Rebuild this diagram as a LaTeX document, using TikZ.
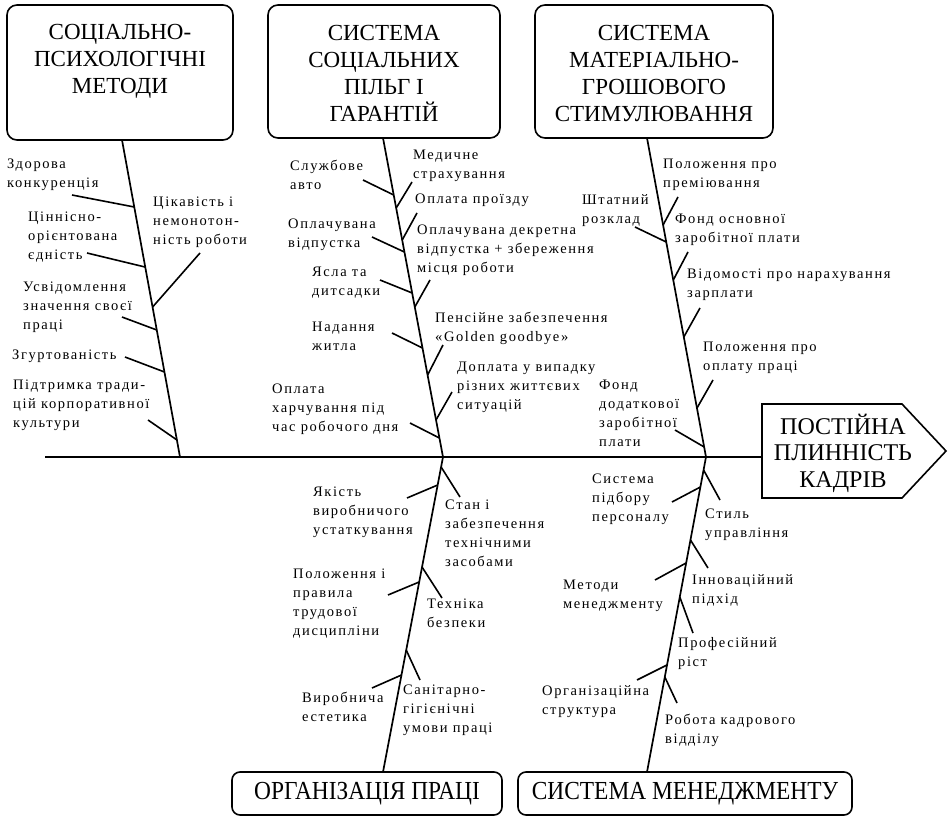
\documentclass[tikz,border=0pt]{standalone}
\usepackage{fontspec}
\setmainfont{Liberation Serif}
\newfontfamily\labfam[LetterSpace=11]{Liberation Serif}
\newfontfamily\condfam[FakeStretch=0.9]{Liberation Serif}
\usetikzlibrary{calc}
\tikzset{
  bone/.style={line width=1.7pt},
  twig/.style={line width=1.6pt},
  tbox/.style={draw, line width=1.6pt, rounded corners=10pt, inner sep=0pt},
  ttl/.style={font=\fontsize{23}{27}\selectfont, align=center, inner sep=0pt},
  lab/.style={font=\labfam\fontsize{14.5}{19}\selectfont, align=left, anchor=north west, inner sep=0pt},
}
\begin{document}
\begin{tikzpicture}[x=1pt,y=-1pt]
\useasboundingbox (0,0) rectangle (948,816);
% title boxes
\node[tbox, minimum width=226, minimum height=135] (t1) at (120,72.5) {};
\node[ttl] (t1t) at (120,61) {СОЦІАЛЬНО-\\ПСИХОЛОГІЧНІ\\МЕТОДИ};
\node[tbox, minimum width=232, minimum height=133] (t2) at (384,71.5) {};
\node[ttl] (t2t) at (384,73) {СИСТЕМА\\СОЦІАЛЬНИХ\\ПІЛЬГ І\\ГАРАНТІЙ};
\node[tbox, minimum width=238, minimum height=133] (t3) at (654,71.5) {};
\node[ttl] (t3t) at (654,73) {СИСТЕМА\\МАТЕРІАЛЬНО-\\ГРОШОВОГО\\СТИМУЛЮВАННЯ};
\node[tbox, rounded corners=8pt, minimum width=270, minimum height=43, ttl, font=\condfam\fontsize{26}{28}\selectfont] (b5) at (367,793.5) {ОРГАНІЗАЦІЯ ПРАЦІ};
\node[tbox, rounded corners=8pt, minimum width=334, minimum height=43, ttl, font=\condfam\fontsize{26}{28}\selectfont] (b6) at (685,793.5) {СИСТЕМА МЕНЕДЖМЕНТУ};
% effect
\node[ttl, font=\fontsize{24}{26.5}\selectfont] (eff) at (843,453) {ПОСТІЙНА\\ПЛИННІСТЬ\\КАДРІВ};
\coordinate (e1) at (762,404); \coordinate (e2) at (902,404); \coordinate (e3) at (946,451);
\coordinate (e4) at (902,498); \coordinate (e5) at (762,498);
\draw[line width=1.6pt] (e1) -- (e2) -- (e3) -- (e4) -- (e5) -- cycle;
% spine and bones
\coordinate (spL) at (45,457);
\coordinate (spR) at (762,457);
\coordinate (j1) at (180,457);
\coordinate (j2) at (443,457);
\coordinate (j3) at (706,457);
\coordinate (b1t) at (122,140);
\coordinate (b2t) at (383,138);
\coordinate (b3t) at (647,138);
\coordinate (b5b) at (383,772);
\coordinate (b6b) at (647,772);
\draw[line width=2pt] (spL) -- (spR);
\draw[bone] (b1t) -- (j1);
\draw[bone] (b2t) -- (j2);
\draw[bone] (b3t) -- (j3);
\draw[bone] (j2) -- (b5b);
\draw[bone] (j3) -- (b6b);
% twigs
\foreach \n/\bx/\by/\ex/\ey in {
  a1/134.3/207/72/195, a2/152.6/307/200/253, a3/145/267/87/253, a4/156.8/330/122/317,
  a5/164.5/372/125/357, a6/177/440/148/420,
  c1/393.7/195/363/180, c2/396.2/208/412/182, c3/402.2/240/417/213, c4/404.4/252/372/237,
  c5/414.8/307/430/280, c6/412.2/293/380/280, c7/427.6/375/443/345, c8/422.5/348/392/333,
  c9/436/420/452/392, c10/439.4/438/410/423,
  d1/663.1/225/678/197, d2/666.2/242/635/227, d3/673.3/280/688/252, d4/683.8/337/700/308,
  d5/697/408/713/380, d6/704.2/447/675/430,
  f1/437.7/485/407/498, f2/441.1/467/460/497, f3/419.2/582/388/595, f4/422/567/442/598,
  f5/401.5/675/372/688, f6/406.2/650/420/680,
  g1/700.4/487/672/502, g2/703.6/470/720/500, g3/686.1/563/655/580, g4/690.5/540/708/568,
  g5/679.8/597/693/633, g6/667/665/637/680, g7/664.8/677/677/703}
{
  \coordinate (p\n) at (\bx,\by);
  \coordinate (q\n) at (\ex,\ey);
  \draw[twig] (p\n) -- (q\n);
}
% labels group 1
\node[lab] (l1a) at (7,159) {Здорова\\конкуренція};
\node[lab] (l1b) at (153,197) {Цікавість і\\немонотон-\\ність роботи};
\node[lab] (l1c) at (28,212) {Ціннісно-\\орієнтована\\єдність};
\node[lab] (l1d) at (23,282) {Усвідомлення\\значення своєї\\праці};
\node[lab] (l1e) at (12,350) {Згуртованість};
\node[lab] (l1f) at (13,380) {Підтримка тради-\\цій корпоративної\\культури};
% group 2
\node[lab] (l2a) at (290,160) {Службове\\авто};
\node[lab] (l2b) at (413,150) {Медичне\\страхування};
\node[lab] (l2c) at (415,194) {Оплата проїзду};
\node[lab] (l2d) at (288,219) {Оплачувана\\відпустка};
\node[lab] (l2e) at (417,225) {Оплачувана декретна\\відпустка + збереження\\місця роботи};
\node[lab] (l2f) at (312,267) {Ясла та\\дитсадки};
\node[lab] (l2g) at (435,312) {Пенсійне забезпечення\\«Golden goodbye»};
\node[lab] (l2h) at (312,322) {Надання\\житла};
\node[lab] (l2i) at (457,362) {Доплата у випадку\\різних життєвих\\ситуацій};
\node[lab] (l2j) at (272,384) {Оплата\\харчування під\\час робочого дня};
% group 3
\node[lab] (l3a) at (663,159) {Положення про\\преміювання};
\node[lab] (l3b) at (582,194) {Штатний\\розклад};
\node[lab] (l3c) at (675,214) {Фонд основної\\заробітної плати};
\node[lab] (l3d) at (687,269) {Відомості про нарахування\\зарплати};
\node[lab] (l3e) at (703,342) {Положення про\\оплату праці};
\node[lab] (l3f) at (599,380) {Фонд\\додаткової\\заробітної\\плати};
% group 5
\node[lab] (l5a) at (313,487) {Якість\\виробничого\\устаткування};
\node[lab] (l5b) at (445,500) {Стан і\\забезпечення\\технічними\\засобами};
\node[lab] (l5c) at (293,569) {Положення і\\правила\\трудової\\дисципліни};
\node[lab] (l5d) at (427,599) {Техніка\\безпеки};
\node[lab] (l5e) at (302,692) {Виробнича\\естетика};
\node[lab] (l5f) at (403,685) {Санітарно-\\гігієнічні\\умови праці};
% group 6
\node[lab] (l6a) at (592,474) {Система\\підбору\\персоналу};
\node[lab] (l6b) at (705,509) {Стиль\\управління};
\node[lab] (l6c) at (563,580) {Методи\\менеджменту};
\node[lab] (l6d) at (692,574) {Інноваційний\\підхід};
\node[lab] (l6e) at (678,637) {Професійний\\ріст};
\node[lab] (l6f) at (542,685) {Організаційна\\структура};
\node[lab] (l6g) at (665,714) {Робота кадрового\\відділу};
\end{tikzpicture}
\end{document}
